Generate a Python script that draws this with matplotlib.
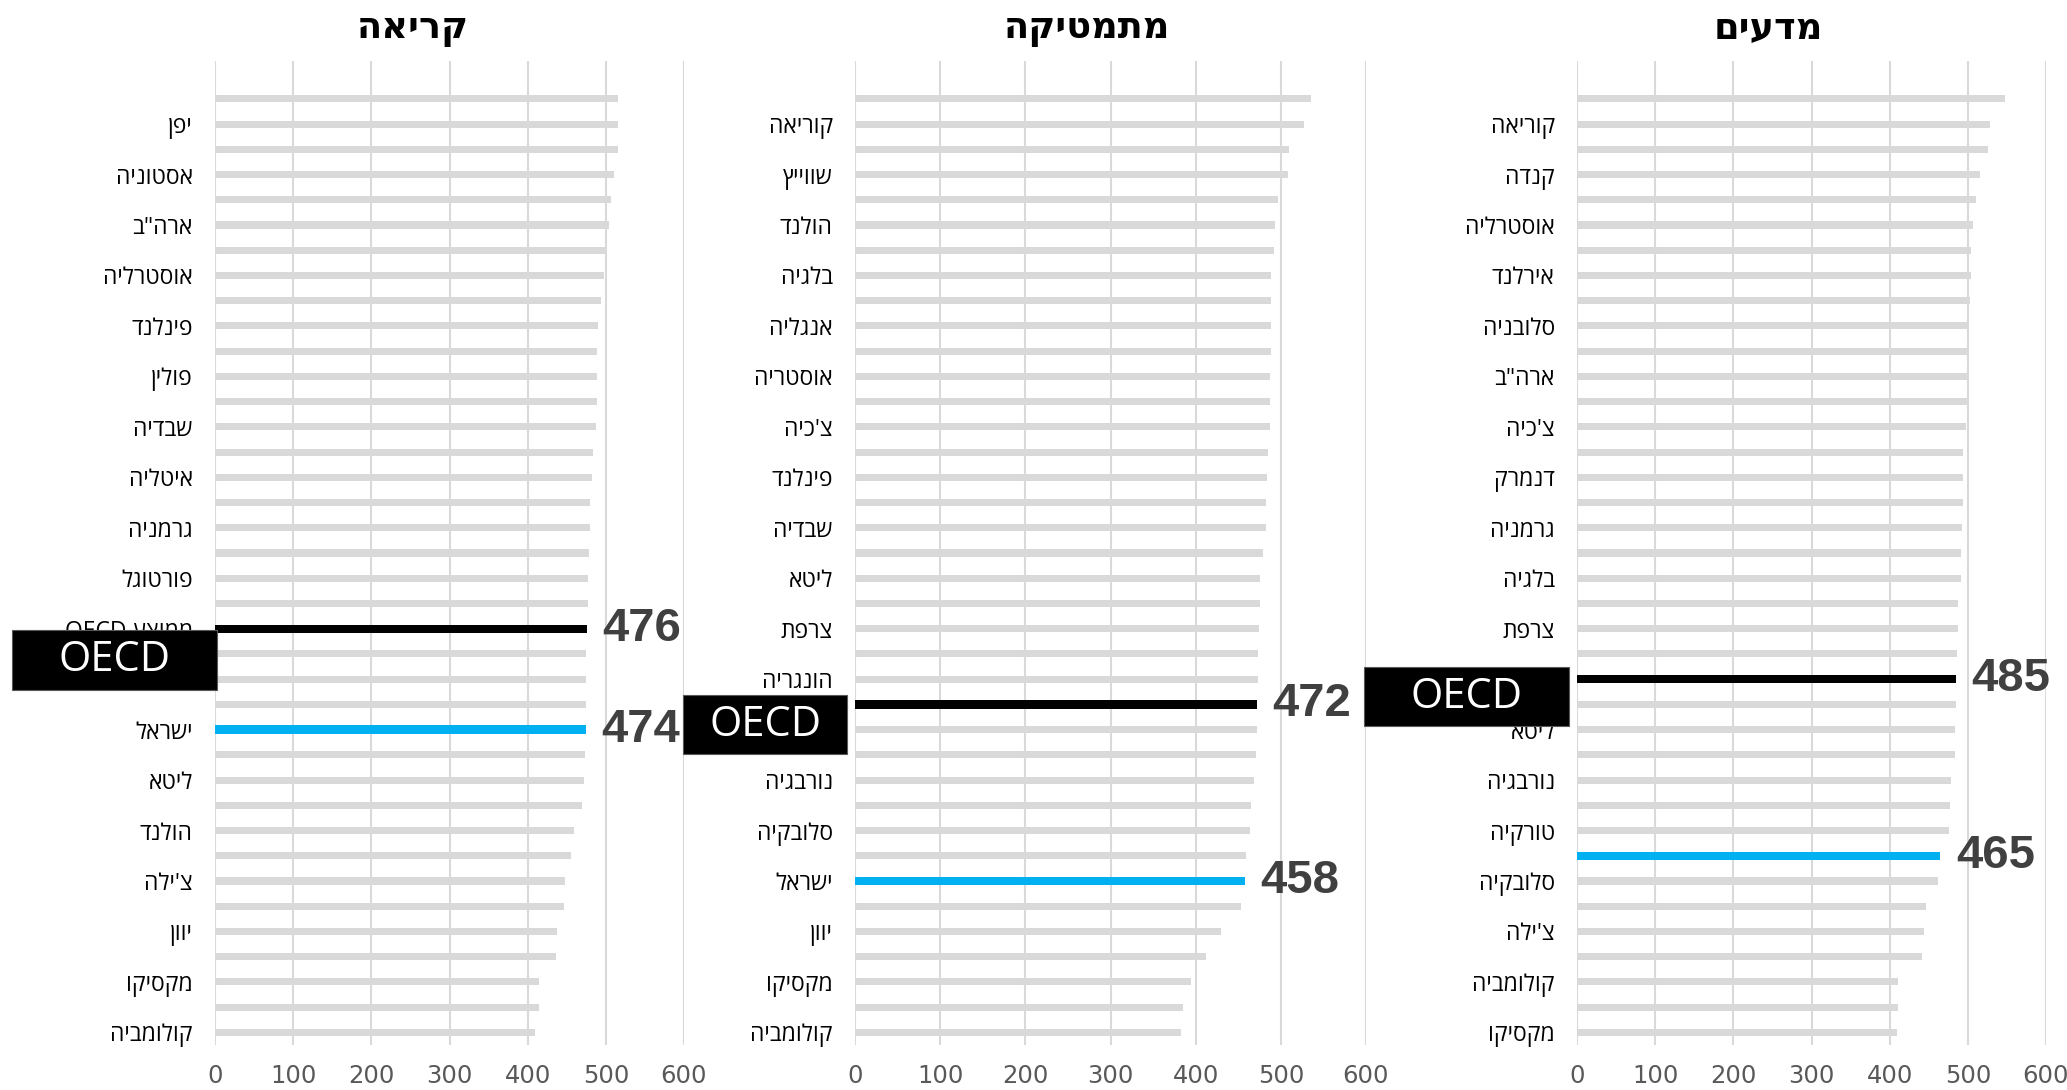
import re
import matplotlib
matplotlib.use("Agg")
import matplotlib.pyplot as plt
from matplotlib.patches import Rectangle

# PISA 2022 - reading / maths / science, OECD countries (Hebrew)
read_names = ["אירלנד", "יפן", "קוריאה", "אסטוניה", "קנדה", "ארה\"ב", "ניו זילנד", "אוסטרליה",
              "בריטניה", "פינלנד", "דנמרק", "פולין", "צ'כיה", "שבדיה", "שווייץ", "איטליה",
              "אוסטריה", "גרמניה", "בלגיה", "פורטוגל", "נורבגיה", "ממוצע OECD", "לטביה", "ספרד",
              "צרפת", "ישראל", "הונגריה", "ליטא", "סלובניה", "הולנד", "טורקיה", "צ'ילה",
              "סלובקיה", "יוון", "איסלנד", "מקסיקו", "קוסטה ריקה", "קולומביה"]
read_vals = [516, 516, 515, 511, 507, 504, 501, 498, 494, 490, 489, 489, 489, 487, 483, 482,
             480, 480, 479, 477, 477, 476, 475, 474, 474, 474, 473, 472, 469, 459, 456, 448,
             447, 438, 436, 415, 415, 409]

math_names = ["יפן", "קוריאה", "אסטוניה", "שווייץ", "קנדה", "הולנד", "אירלנד", "בלגיה",
              "דנמרק", "אנגליה", "פולין", "אוסטריה", "אוסטרליה", "צ'כיה", "סלובניה", "פינלנד",
              "לטביה", "שבדיה", "ניו זילנד", "ליטא", "גרמניה", "צרפת", "ספרד", "הונגריה",
              "ממוצע OECD", "פורטוגל", "איטליה", "נורבגיה", "ארה\"ב", "סלובקיה", "איסלנד", "ישראל",
              "טורקיה", "יוון", "צ'ילה", "מקסיקו", "קוסטה ריקה", "קולומביה"]
math_vals = [536, 527, 510, 508, 497, 493, 492, 489, 489, 489, 489, 487, 487, 487, 485, 484,
             483, 482, 479, 475, 475, 474, 473, 473, 472, 472, 471, 468, 465, 464, 459, 458,
             453, 430, 412, 395, 385, 383]

sci_names = ["יפן", "קוריאה", "אסטוניה", "קנדה", "פינלנד", "אוסטרליה", "ניו זילנד", "אירלנד",
             "שווייץ", "סלובניה", "אנגליה", "ארה\"ב", "פולין", "צ'כיה", "לטביה", "דנמרק",
             "שבדיה", "גרמניה", "אוסטריה", "בלגיה", "הולנד", "צרפת", "הונגריה", "ממוצע OECD",
             "ספרד", "ליטא", "פורטוגל", "נורבגיה", "איטליה", "טורקיה", "ישראל", "סלובקיה",
             "איסלנד", "צ'ילה", "יוון", "קולומביה", "קוסטה ריקה", "מקסיקו"]
sci_vals = [547, 528, 526, 515, 511, 507, 504, 504, 503, 500, 500, 499, 499, 498, 494, 494,
            494, 492, 491, 491, 488, 487, 486, 485, 485, 484, 484, 478, 477, 476, 465, 462,
            447, 444, 441, 411, 411, 410]

titles = ["קריאה", "מתמטיקה", "מדעים"]
x_ticks = [0, 100, 200, 300, 400, 500, 600]

W, H = 2067, 1090
HEB = ["Open Sans", "DejaVu Sans"]
NARROW = ["Liberation Sans Narrow", "DejaVu Sans"]


def vis(s):
    # matplotlib has no bidi: flip Hebrew, keep latin words readable
    r = s[::-1]
    return re.sub(r"[A-Za-z0-9]+", lambda m: m.group(0)[::-1], r)


def fx(px):
    return px / W


def fy(py):
    return 1 - py / H


fig = plt.figure(figsize=(W / 100, H / 100), dpi=100)

panels = [
    (read_names, read_vals, 215, 684, 413, (12, 630, 217, 690)),
    (math_names, math_vals, 855, 1366, 1087, (683, 695, 847, 754)),
    (sci_names, sci_vals, 1577, 2046, 1768, (1364, 667, 1569, 726)),
]

for k, (names, vals, x0, x1, tx, box) in enumerate(panels):
    ax = fig.add_axes([fx(x0), fy(1045), fx(x1 - x0), (1045 - 61) / H])
    n = len(names)
    ypos = list(range(n))
    i_isr = names.index("ישראל")
    i_oecd = names.index("ממוצע OECD")
    colors = ["#D9D9D9"] * n
    heights = [0.28] * n
    colors[i_isr] = "#00B0F0"
    colors[i_oecd] = "#000000"
    heights[i_isr] = 0.33
    heights[i_oecd] = 0.33
    ax.barh(ypos, vals, height=heights, color=colors, zorder=3)
    ax.set_xlim(0, 600)
    ax.set_ylim(n - 0.5, -1.5)
    ax.set_xticks(x_ticks)
    ax.set_xticklabels([str(t) for t in x_ticks], family=NARROW, fontsize=17.5, color="#595959")
    ax.set_yticks(ypos[1::2])
    ax.set_yticklabels([vis(s) for s in names[1::2]], family=HEB, fontsize=16.5, color="black")
    ax.tick_params(axis="both", length=0)
    ax.tick_params(axis="y", pad=16)
    ax.tick_params(axis="x", pad=14)
    ax.grid(axis="x", color="#D9D9D9", linewidth=1.5, zorder=0)
    for s in ax.spines.values():
        s.set_visible(False)

    for i in (i_oecd, i_isr):
        ax.annotate(str(vals[i]), xy=(vals[i], i), xytext=(11, 0), textcoords="offset points",
                    va="center", ha="left", fontsize=34, fontweight="bold", color="#404040",
                    family=["Liberation Sans", "DejaVu Sans"], annotation_clip=False, zorder=5)

    fig.text(fx(tx), fy(28), vis(titles[k]), ha="center", va="center", fontsize=26.5,
             fontweight="bold", family=HEB)

    bx0, by0, bx1, by1 = box
    fig.add_artist(Rectangle((fx(bx0), fy(by1)), fx(bx1 - bx0), (by1 - by0) / H,
                             transform=fig.transFigure, facecolor="black",
                             edgecolor="#595959", linewidth=0.8, zorder=10))
    fig.text(fx((bx0 + bx1) / 2), fy((by0 + by1) / 2), "OECD", ha="center", va="center",
             color="white", fontsize=30, family=HEB, zorder=11)

fig.savefig("out.png", dpi=100, facecolor="white")
